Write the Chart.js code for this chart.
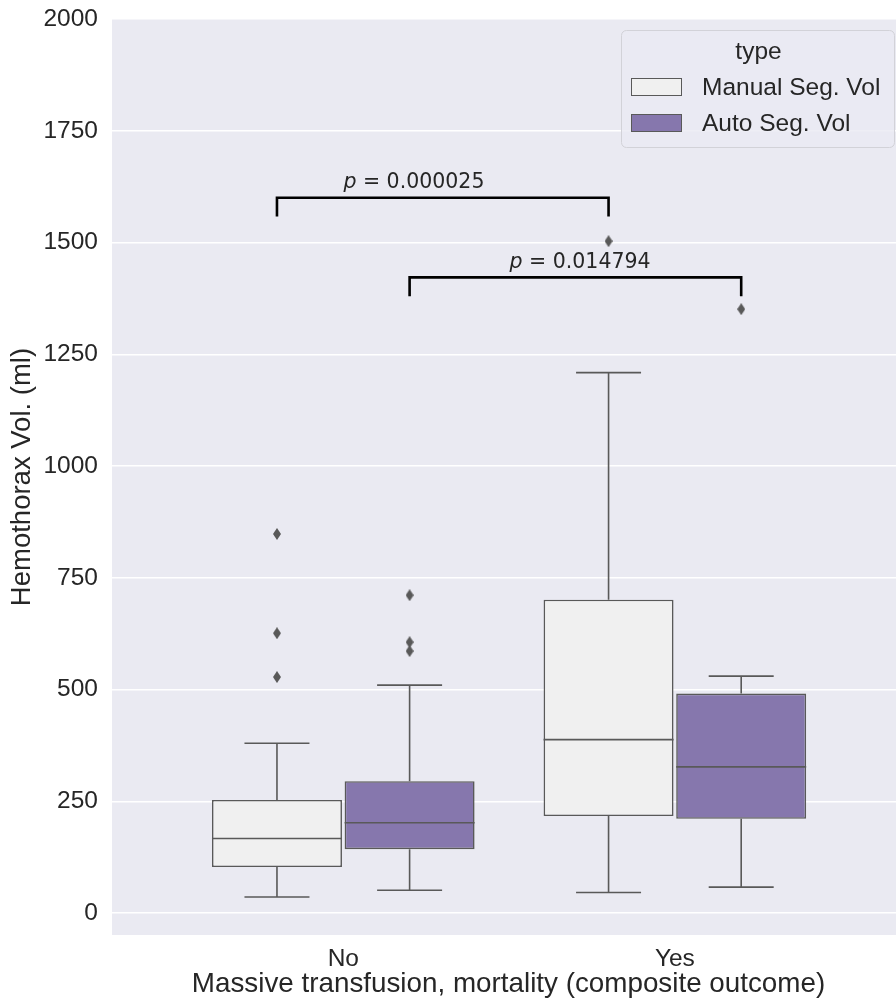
<!DOCTYPE html>
<html>
<head>
<meta charset="utf-8">
<script src="https://cdn.jsdelivr.net/npm/chart.js@4.4.0/dist/chart.umd.min.js"></script>
<style>
  html, body { margin: 0; padding: 0; background: #ffffff; overflow: hidden; }
  /* figure is a bit wider than the window: the right edge of the axes is cropped */
  #wrap { width: 910px; height: 1002px; }
</style>
</head>
<body>
<div id="wrap"><canvas id="myChart"></canvas></div>
<script>
  // groups on the x axis and the two hue series
  const categories = ["No", "Yes"];
  const seriesNames = ["Manual Seg. Vol", "Auto Seg. Vol"];

  // box statistics, one value per group [No, Yes]
  const manualLow = [36, 46];
  const manualQ1 = [103, 217];
  const manualMedian = [167, 388];
  const manualQ3 = [253, 701];
  const manualHigh = [380, 1209];
  const manualOutliers = [[528, 626, 848], [1503]];

  const autoLow = [51, 58];
  const autoQ1 = [143, 211];
  const autoMedian = [202, 327];
  const autoQ3 = [295, 491];
  const autoHigh = [510, 530];
  const autoOutliers = [[586, 606, 711], [1351]];

  const yTicks = [0, 250, 500, 750, 1000, 1250, 1500, 1750, 2000];

  // significance brackets: which series, bracket top / foot (ml), label anchor
  const pValues = ["0.000025", "0.014794"];
  const bracketSeries = [0, 1];
  const bracketTop = [1600, 1422];
  const bracketFoot = [1558, 1380];
  const pLabelX = [0.213, 0.714];
  const pLabelY = [1634, 1455];

  // layout / style
  const hueOffset = [-0.2, 0.2];
  const boxHalf = 0.196;
  const capHalf = 0.098;
  const lineGray = "#595959";
  const fills = ["#f0f0f0", "#8677ad"];
  const textColor = "#262626";
  const sans = "'Liberation Sans', Arial, sans-serif";

  const stats = [
    { low: manualLow, q1: manualQ1, med: manualMedian, q3: manualQ3, high: manualHigh, out: manualOutliers },
    { low: autoLow, q1: autoQ1, med: autoMedian, q3: autoQ3, high: autoHigh, out: autoOutliers }
  ];

  function boxCenter(s, i) { return i + hueOffset[s]; }

  // whiskers, caps and medians as one broken line per series
  function whiskerData(s) {
    const st = stats[s];
    const pts = [];
    categories.forEach((c, i) => {
      const cx = boxCenter(s, i);
      pts.push({x: cx, y: st.q3[i]}, {x: cx, y: st.high[i]}, {x: cx, y: null});
      pts.push({x: cx - capHalf, y: st.high[i]}, {x: cx + capHalf, y: st.high[i]}, {x: cx, y: null});
      pts.push({x: cx, y: st.q1[i]}, {x: cx, y: st.low[i]}, {x: cx, y: null});
      pts.push({x: cx - capHalf, y: st.low[i]}, {x: cx + capHalf, y: st.low[i]}, {x: cx, y: null});
      pts.push({x: cx - boxHalf, y: st.med[i]}, {x: cx + boxHalf, y: st.med[i]}, {x: cx, y: null});
    });
    return pts;
  }

  function outlierData(s) {
    const pts = [];
    stats[s].out.forEach((list, i) => {
      list.forEach(v => pts.push({x: boxCenter(s, i), y: v}));
    });
    return pts;
  }

  function bracketData(k) {
    const s = bracketSeries[k];
    const a = boxCenter(s, 0), b = boxCenter(s, 1);
    return [{x: a, y: bracketFoot[k]}, {x: a, y: bracketTop[k]}, {x: b, y: bracketTop[k]}, {x: b, y: bracketFoot[k]}];
  }

  // thin diamond marker like matplotlib's "d"
  function diamond(w, h, color) {
    const c = document.createElement("canvas");
    c.width = w; c.height = h;
    const g = c.getContext("2d");
    g.fillStyle = color;
    g.beginPath();
    g.moveTo(w / 2, 0); g.lineTo(w, h / 2); g.lineTo(w / 2, h); g.lineTo(0, h / 2);
    g.closePath(); g.fill();
    return c;
  }
  const marker = diamond(8, 12, lineGray);

  const datasets = [];
  bracketSeries.forEach((s, k) => {
    datasets.push({
      type: "line", label: "p" + k, data: bracketData(k), order: 0,
      borderColor: "#000000", borderWidth: 2.6, pointRadius: 0, fill: false
    });
  });
  stats.forEach((st, s) => {
    datasets.push({
      type: "line", label: "out" + s, data: outlierData(s), order: 1,
      showLine: false, pointStyle: marker, pointRadius: 5, borderWidth: 0
    });
    datasets.push({
      type: "line", label: "wh" + s, data: whiskerData(s), order: 2,
      borderColor: lineGray, borderWidth: 1.6, pointRadius: 0, spanGaps: false, fill: false
    });
  });
  stats.forEach((st, s) => {
    datasets.push({
      type: "bar", label: seriesNames[s], order: 3,
      data: categories.map((c, i) => ({x: boxCenter(s, i), y: [st.q1[i], st.q3[i]]})),
      backgroundColor: fills[s], borderColor: lineGray, borderWidth: 1.6, borderSkipped: false,
      grouped: false, categoryPercentage: 1, barPercentage: 0.98
    });
  });

  const bgPlugin = {
    id: "plotBg",
    beforeDraw(chart) {
      const {ctx, chartArea: a} = chart;
      ctx.save();
      ctx.fillStyle = "#eaeaf2";
      ctx.fillRect(a.left, a.top, a.right - a.left, a.bottom - a.top);
      ctx.restore();
    }
  };

  const pLabelPlugin = {
    id: "pLabels",
    afterDatasetsDraw(chart) {
      const {ctx, scales: {x, y}} = chart;
      const ital = "italic 20.5px 'DejaVu Sans'";
      const reg = "20.5px 'DejaVu Sans'";
      ctx.save();
      ctx.fillStyle = textColor;
      ctx.textBaseline = "middle";
      ctx.textAlign = "left";
      pValues.forEach((p, k) => {
        const px = x.getPixelForValue(pLabelX[k]);
        const py = y.getPixelForValue(pLabelY[k]);
        const rest = " = " + p;
        ctx.font = ital; const w1 = ctx.measureText("p").width;
        ctx.font = reg; const w2 = ctx.measureText(rest).width;
        const left = px - (w1 + w2) / 2;
        ctx.font = ital; ctx.fillText("p", left, py);
        ctx.font = reg; ctx.fillText(rest, left + w1, py);
      });
      ctx.restore();
    }
  };

  const legendPlugin = {
    id: "boxLegend",
    afterDraw(chart) {
      const {ctx, chartArea: a} = chart;
      const right = a.right - 11, top = a.top + 11;
      const w = 273, h = 117, left = right - w;
      ctx.save();
      ctx.beginPath();
      ctx.roundRect(left + 0.5, top + 0.5, w, h, 5);
      ctx.fillStyle = "rgba(234,234,242,0.8)";
      ctx.fill();
      ctx.strokeStyle = "#d2d2d8";
      ctx.lineWidth = 1;
      ctx.stroke();
      ctx.fillStyle = textColor;
      ctx.font = "24.5px " + sans;
      ctx.textBaseline = "middle";
      ctx.textAlign = "center";
      ctx.fillText("type", left + w / 2 + 1, top + 22);
      ctx.textAlign = "left";
      seriesNames.forEach((name, s) => {
        const ry = top + 48 + s * 36;
        ctx.fillStyle = fills[s];
        ctx.fillRect(left + 10, ry, 51, 18);
        ctx.strokeStyle = lineGray;
        ctx.lineWidth = 1;
        ctx.strokeRect(left + 10.5, ry + 0.5, 50, 17);
        ctx.fillStyle = textColor;
        ctx.fillText(name, left + 81, ry + 10);
      });
      ctx.restore();
    }
  };

  const myChart = new Chart(document.getElementById("myChart"), {
    type: "bar",
    data: { datasets: datasets },
    plugins: [bgPlugin, pLabelPlugin, legendPlugin],
    options: {
      responsive: true,
      maintainAspectRatio: false,
      animation: false,
      devicePixelRatio: 1,
      layout: { padding: { top: 19, right: 0, left: 0, bottom: 0 } },
      plugins: { legend: { display: false }, tooltip: { enabled: false } },
      scales: {
        x: {
          type: "linear", min: -0.6975, max: 1.694, offset: false,
          afterBuildTicks: s => { s.ticks = categories.map((c, i) => ({value: i})); },
          ticks: {
            callback: v => categories[v],
            font: { family: sans, size: 24.5 }, color: textColor, padding: 2
          },
          grid: { display: false, offset: false },
          border: { display: false },
          title: {
            display: true, text: "Massive transfusion, mortality (composite outcome)",
            font: { family: sans, size: 27.8 }, color: textColor, padding: { top: 0, bottom: 0.5 }
          },
          afterFit: s => { s.height = 67; s.paddingLeft = 0; s.paddingRight = 0; }
        },
        y: {
          min: -49, max: 2000,
          afterBuildTicks: s => { s.ticks = yTicks.map(v => ({value: v})); },
          ticks: {
            callback: v => String(v),
            font: { family: sans, size: 24.5 }, color: textColor, padding: 14
          },
          grid: { color: "#ffffff", lineWidth: 1.5, drawTicks: false },
          border: { display: false },
          title: {
            display: true, text: "Hemothorax Vol. (ml)",
            font: { family: sans, size: 27.5 }, color: textColor, padding: { top: 5.5, bottom: 0 }
          },
          afterFit: s => { s.width = 112; s.paddingTop = 0; s.paddingBottom = 0; }
        }
      }
    }
  });
</script>
</body>
</html>
